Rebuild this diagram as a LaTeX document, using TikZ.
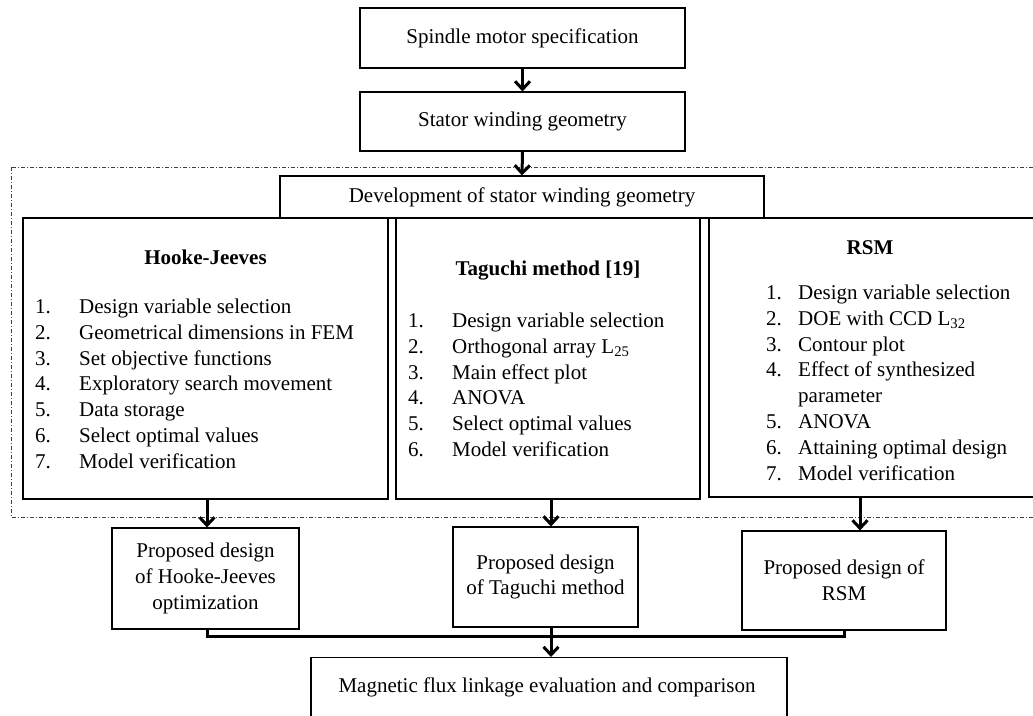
\documentclass[tikz,border=0pt]{standalone}
\usepackage{fontspec}
\setmainfont{Liberation Serif}
\usetikzlibrary{arrows.meta,calc}
\tikzset{
  box/.style={draw, line width=1.1pt, inner sep=0pt, align=center},
  lbl/.style={inner sep=0pt, align=center},
  lst/.style={inner sep=0pt, anchor=base west},
  arr/.style={line width=3pt, -{Straight Barb[length=8pt,width=15pt]}},
  link/.style={line width=3pt},
  grp/.style={draw=black!75, line width=0.8pt, dash pattern=on 4pt off 2pt on 1pt off 2pt}
}
\begin{document}
\begin{tikzpicture}[x=1pt,y=-1pt]
\fontsize{21}{25.8}\selectfont
\useasboundingbox (0,0) rectangle (1033,715);
\clip (0,0) rectangle (1033,715);
% group frame
\draw[grp] (11,167) rectangle (1045,517);
% top chain
\node[box, minimum width=325pt, minimum height=60pt] (spec) at (522.5,38) {Spindle motor specification};
\node[box, minimum width=325pt, minimum height=59pt] (geom) at (522.5,121.5) {Stator winding geometry};
\node[box, minimum width=484pt, minimum height=42pt] (dev) at (522,197) {Development of stator winding geometry};
% three method boxes
\node[box, minimum width=365pt, minimum height=281pt] (hooke) at (205.5,358.5) {};
\node[box, minimum width=304pt, minimum height=281pt] (tag) at (548,358.5) {};
\node[box, minimum width=336pt, minimum height=279pt] (rsm) at (877,357.5) {};
\node[lbl, anchor=base] (hookeT) at (205.5,264) {\bfseries Hooke-Jeeves};
\node[lbl, anchor=base] (tagT) at (548,275) {\bfseries Taguchi method [19]};
\node[lbl, anchor=base] (rsmT) at (870,254) {\bfseries RSM};
\node[lst] (hookeL) at (35,313.5) {\begin{tabular}[t]{@{}p{44pt}@{}l@{}}
1. & Design variable selection\\
2. & Geometrical dimensions in FEM\\
3. & Set objective functions\\
4. & Exploratory search movement\\
5. & Data storage\\
6. & Select optimal values\\
7. & Model verification
\end{tabular}};
\node[lst] (tagL) at (408,327.5) {\begin{tabular}[t]{@{}p{44pt}@{}l@{}}
1. & Design variable selection\\
2. & Orthogonal array L$_{\mathrm{25}}$\\
3. & Main effect plot\\
4. & ANOVA\\
5. & Select optimal values\\
6. & Model verification
\end{tabular}};
\node[lst] (rsmL) at (766,299.5) {\begin{tabular}[t]{@{}p{32pt}@{}l@{}}
1. & Design variable selection\\
2. & DOE with CCD L$_{\mathrm{32}}$\\
3. & Contour plot\\
4. & Effect of synthesized\\
   & parameter\\
5. & ANOVA\\
6. & Attaining optimal design\\
7. & Model verification
\end{tabular}};
% proposed designs
\node[box, minimum width=187pt, minimum height=101pt] (hjp) at (205.5,578.5) {Proposed design\\of Hooke-Jeeves\\optimization};
\node[box, minimum width=185pt, minimum height=100pt] (tp) at (545.5,577) {Proposed design\\of Taguchi method};
\node[box, minimum width=204pt, minimum height=99pt] (rp) at (844,580.5) {Proposed design of\\RSM};
% final
\node[box, minimum width=476pt, minimum height=63pt, anchor=north] (fin) at (549,657) {};
\node[lbl] (finT) at (547,687) {Magnetic flux linkage evaluation and comparison};
% connectors
\draw[arr] (spec.south) -- (geom.north);
\draw[arr] (geom.south) -- (dev.north);
\draw[arr] (hooke.south -| 207,0) -- (hjp.north -| 207,0);
\draw[arr] (tag.south -| 551,0) -- (tp.north -| 551,0);
\draw[arr] (rsm.south -| 860,0) -- (rp.north -| 860,0);
\coordinate (mL) at (207,636);
\coordinate (mR) at (844,636);
\draw[link] (hjp.south -| mL) -- (mL) -- (mR) -- (rp.south -| mR);
\draw[arr] (tp.south -| 551,0) -- (fin.north -| 551,0);
\end{tikzpicture}
\end{document}
